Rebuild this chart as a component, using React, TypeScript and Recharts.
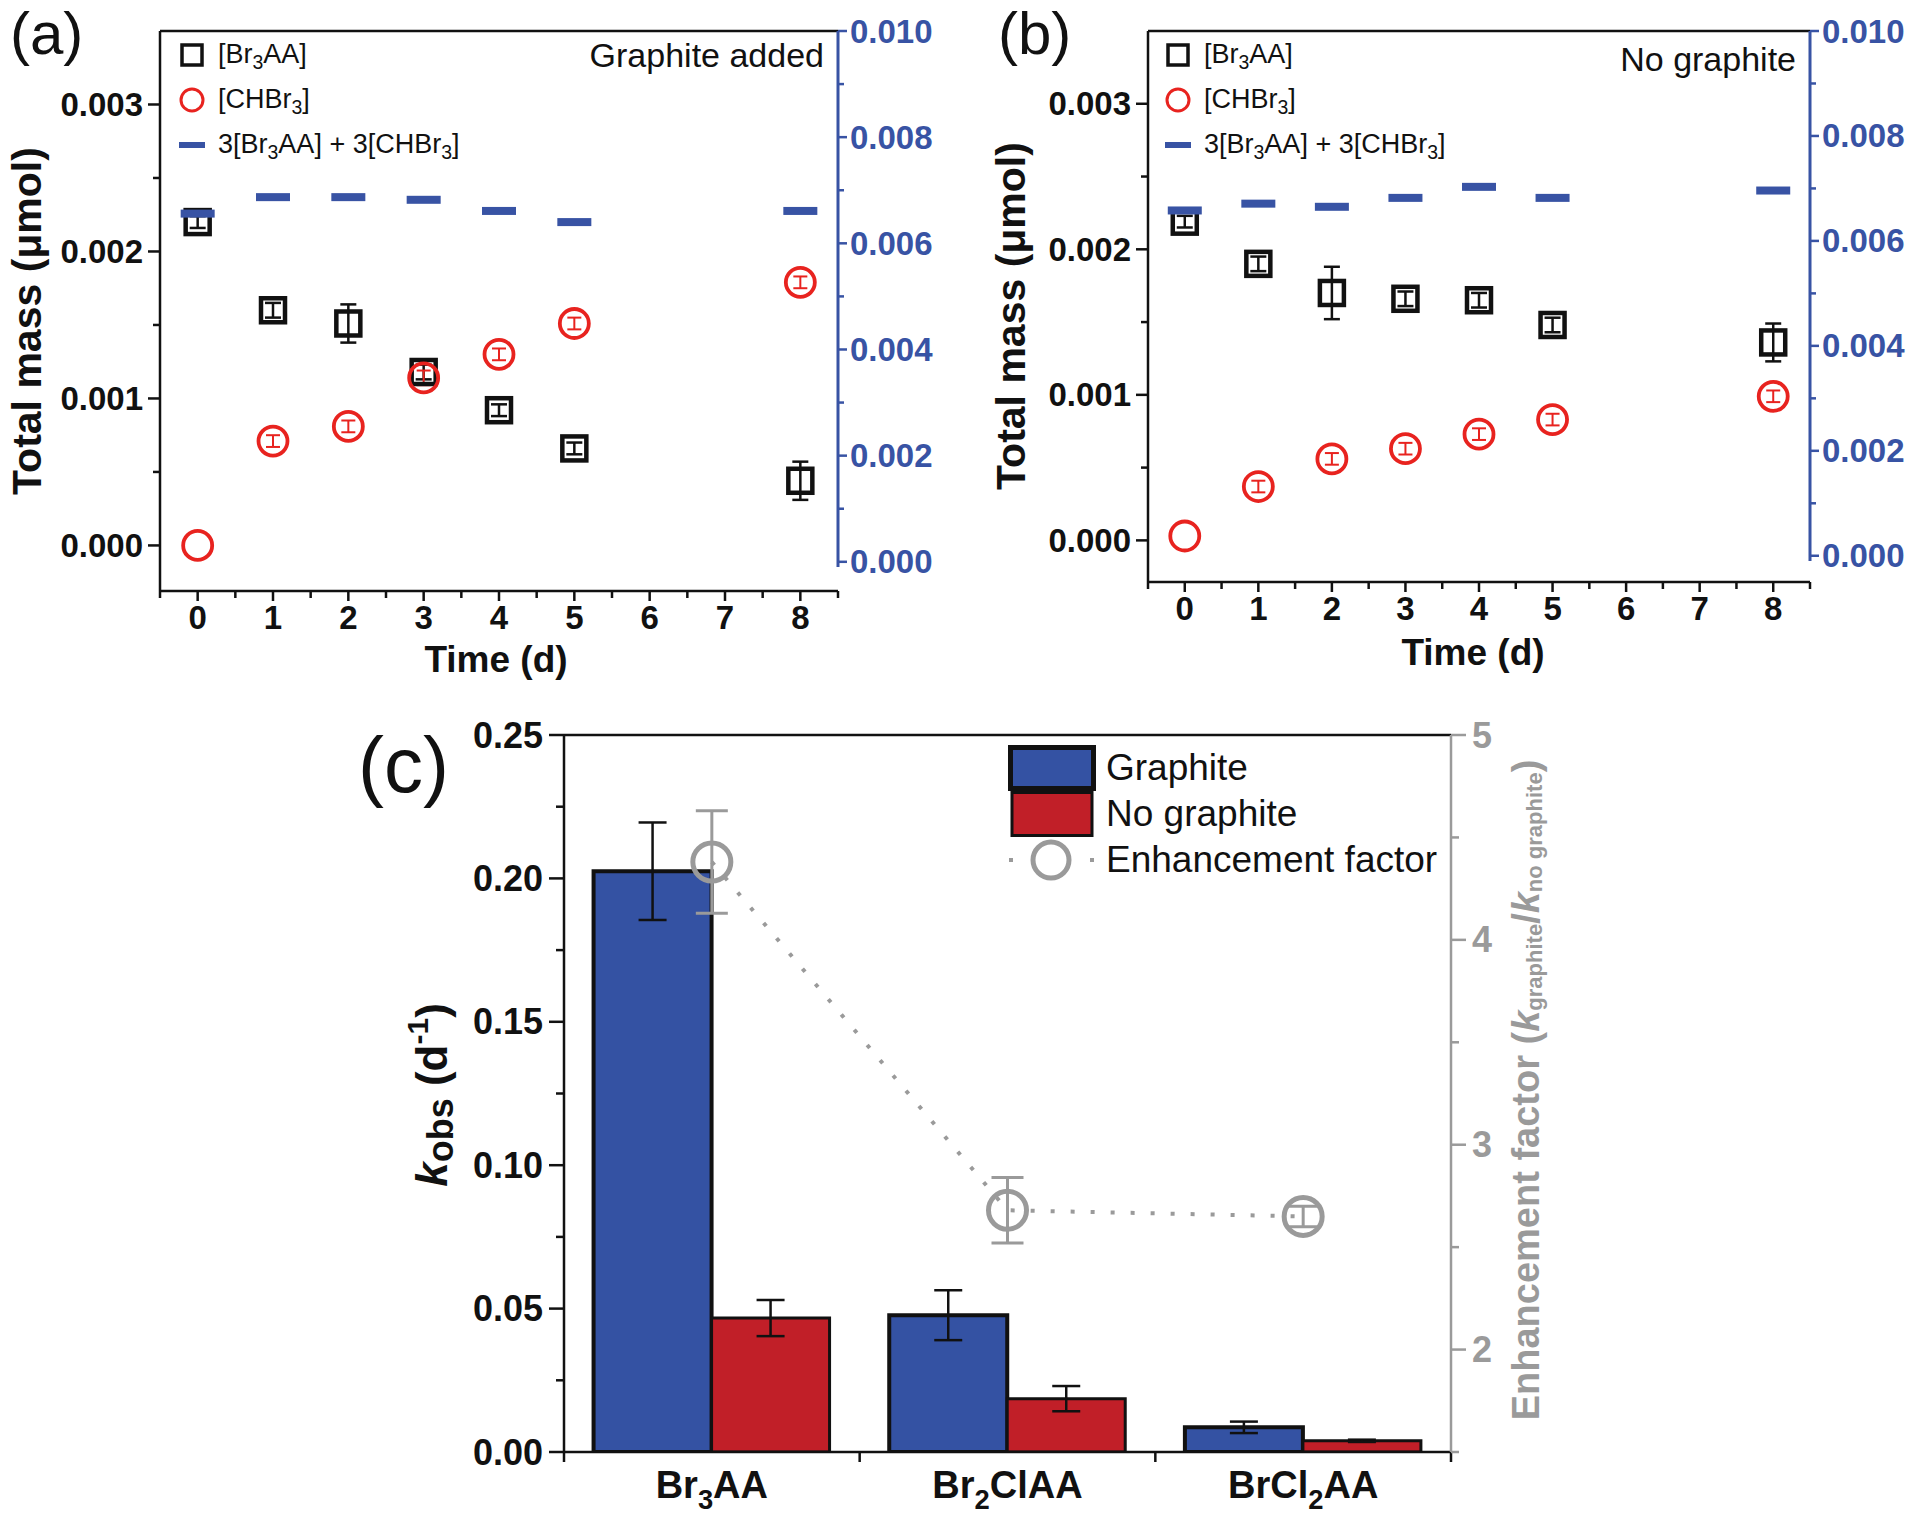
import React from "react";
import {
  ComposedChart,
  Scatter,
  Bar,
  Line,
  XAxis,
  YAxis,
  ErrorBar,
  ReferenceLine,
  Legend,
  Label,
} from "recharts";

const FONT = '"Liberation Sans", Arial, Helvetica, sans-serif';
const INK = "#111111";
const BLUE = "#3853a4";
const RED = "#e8231f";
const GREY = "#9a9a9a";
const BAR_BLUE = "#3452a3";
const BAR_RED = "#c11f28";

// panels (a) and (b): sampling days
const days = [0, 1, 2, 3, 4, 5, 8];
const dayTicks = [-0.5, 0, 0.5, 1, 1.5, 2, 2.5, 3, 3.5, 4, 4.5, 5, 5.5, 6, 6.5, 7, 7.5, 8, 8.5];
const dayMajor = [0, 1, 2, 3, 4, 5, 6, 7, 8];
const massTicks = [0, 0.0005, 0.001, 0.0015, 0.002, 0.0025, 0.003];
const massMajor = [0, 0.001, 0.002, 0.003];
const sumTicks = [0, 0.001, 0.002, 0.003, 0.004, 0.005, 0.006, 0.007, 0.008, 0.009, 0.01];
const sumMajor = [0, 0.002, 0.004, 0.006, 0.008, 0.01];
const massLegend = ["[Br3AA]", "[CHBr3]", "3[Br3AA] + 3[CHBr3]"];

// (a) graphite added
const aBr3aa = [0.0022, 0.0016, 0.00151, 0.00118, 0.00092, 0.00066, 0.00044];
const aBr3aaErr = [0.00004, 0.00005, 0.00013, 0.00005, 0.00004, 0.00004, 0.00013];
const aChbr3 = [0.0, 0.00071, 0.00081, 0.00114, 0.0013, 0.00151, 0.00179];
const aChbr3Err = [0, 0.00004, 0.00004, 0.00005, 0.00004, 0.00004, 0.00004];
const aTotal = [0.00656, 0.00687, 0.00687, 0.00682, 0.00661, 0.0064, 0.00661];

// (b) no graphite
const bBr3aa = [0.00219, 0.0019, 0.0017, 0.00166, 0.00165, 0.00148, 0.00136];
const bBr3aaErr = [0.00004, 0.00005, 0.00018, 0.00005, 0.00005, 0.00005, 0.00013];
const bChbr3 = [0.00003, 0.00037, 0.00056, 0.00063, 0.00073, 0.00083, 0.00099];
const bChbr3Err = [0, 0.00004, 0.00004, 0.00004, 0.00004, 0.00004, 0.00004];
const bTotal = [0.00658, 0.00671, 0.00665, 0.00682, 0.00703, 0.00682, 0.00696];

// (c) rate constants
const compounds = ["Br3AA", "Br2ClAA", "BrCl2AA"];
const kGraphite = [0.2025, 0.0477, 0.0086];
const kGraphiteErr = [0.017, 0.0087, 0.002];
const kNoGraphite = [0.0467, 0.0186, 0.0039];
const kNoGraphiteErr = [0.0063, 0.0044, 0.0004];
const enhancement = [4.38, 2.68, 2.65];
const enhancementErr = [0.25, 0.16, 0.05];
const kTicks = [0, 0.025, 0.05, 0.075, 0.1, 0.125, 0.15, 0.175, 0.2, 0.225, 0.25];
const kMajor = [0, 0.05, 0.1, 0.15, 0.2, 0.25];
const efTicks = [1.5, 2, 2.5, 3, 3.5, 4, 4.5, 5];
const efMajor = [2, 3, 4, 5];
const kLegend = ["Graphite", "No graphite", "Enhancement factor"];

type Part = { t: string; sub?: boolean };

// digits that follow a letter are subscripts (Br3AA, CHBr3)
function splitChem(s: string): Part[] {
  const out: Part[] = [];
  const re = /(\d+)/g;
  let last = 0;
  let m: RegExpExecArray | null;
  while ((m = re.exec(s))) {
    if (m.index > last) out.push({ t: s.slice(last, m.index) });
    const prev = s[m.index - 1];
    out.push({ t: m[0], sub: !!prev && /[A-Za-z]/.test(prev) });
    last = m.index + m[0].length;
  }
  if (last < s.length) out.push({ t: s.slice(last) });
  return out;
}

function HtmlChem({ text }: { text: string }) {
  return (
    <>
      {splitChem(text).map((p, i) =>
        p.sub ? (
          <span key={i} style={{ fontSize: "0.72em", position: "relative", top: "0.32em" }}>
            {p.t}
          </span>
        ) : (
          <span key={i}>{p.t}</span>
        )
      )}
    </>
  );
}

function svgChem(text: string, fs: number) {
  let shift = 0;
  return splitChem(text).map((p, i) => {
    const target = p.sub ? fs * 0.3 : 0;
    const dy = target - shift;
    shift = target;
    return (
      <tspan key={i} dy={dy} fontSize={p.sub ? fs * 0.72 : fs}>
        {p.t}
      </tspan>
    );
  });
}

type Side = "left" | "right" | "bottom";
type TickOpts = {
  color: string;
  fontSize: number;
  fmt: (v: number) => string;
  majorLen?: number;
  minorLen?: number;
  gap?: number;
  lw?: number;
};

function axisTick(side: Side, major: number[], o: TickOpts) {
  const { color, fontSize, fmt, majorLen = 12, minorLen = 7, gap = 5, lw = 2.5 } = o;
  return (props: any) => {
    const { x, y, payload } = props;
    const v = Number(payload.value);
    const isMajor = major.some((m) => Math.abs(m - v) < 1e-9);
    const len = isMajor ? majorLen : minorLen;
    const txt = { fill: color, fontSize, fontWeight: 700, fontFamily: FONT };
    if (side === "left") {
      return (
        <g>
          <line x1={x} y1={y} x2={x - len} y2={y} stroke={color} strokeWidth={lw} />
          {isMajor && (
            <text x={x - majorLen - gap} y={y} textAnchor="end" dominantBaseline="central" {...txt}>
              {fmt(v)}
            </text>
          )}
        </g>
      );
    }
    if (side === "right") {
      return (
        <g>
          <line x1={x} y1={y} x2={x + len} y2={y} stroke={color} strokeWidth={lw} />
          {isMajor && (
            <text x={x + majorLen + gap} y={y} textAnchor="start" dominantBaseline="central" {...txt}>
              {fmt(v)}
            </text>
          )}
        </g>
      );
    }
    return (
      <g>
        <line x1={x} y1={y} x2={x} y2={y + len} stroke={color} strokeWidth={lw} />
        {isMajor && (
          <text x={x} y={y + majorLen + gap + fontSize * 0.72} textAnchor="middle" {...txt}>
            {fmt(v)}
          </text>
        )}
      </g>
    );
  };
}

const SquareDot = (p: any) => (
  <rect x={p.cx - 12} y={p.cy - 12} width={24} height={24} fill="none" stroke={INK} strokeWidth={4.5} />
);
const CircleDot = (p: any) => (
  <circle cx={p.cx} cy={p.cy} r={14.5} fill="none" stroke={RED} strokeWidth={3.8} />
);
const DashDot = (p: any) => <rect x={p.cx - 17} y={p.cy - 4} width={34} height={8} fill={BLUE} />;

type MassRow = {
  day: number;
  br3aa: number;
  br3aaErr: number;
  chbr3: number;
  chbr3Err: number;
  total: number;
};

function massRows(br: number[], brErr: number[], ch: number[], chErr: number[], tot: number[]): MassRow[] {
  return days.map((d, i) => ({
    day: d,
    br3aa: br[i],
    br3aaErr: brErr[i],
    chbr3: ch[i],
    chbr3Err: chErr[i],
    total: tot[i],
  }));
}

function MassLegend() {
  const markers = [
    <rect key="s" x={5} y={5} width={20} height={20} fill="none" stroke={INK} strokeWidth={3.5} />,
    <circle key="c" cx={15} cy={15} r={11} fill="none" stroke={RED} strokeWidth={3} />,
    <rect key="d" x={2} y={12} width={26} height={6} fill={BLUE} />,
  ];
  return (
    <div style={{ fontFamily: FONT, fontSize: 27, color: INK }}>
      {massLegend.map((label, i) => (
        <div key={label} style={{ display: "flex", alignItems: "center", height: 45, whiteSpace: "nowrap" }}>
          <svg width={30} height={30}>
            {markers[i]}
          </svg>
          <span style={{ marginLeft: 11 }}>
            <HtmlChem text={label} />
          </span>
        </div>
      ))}
    </div>
  );
}

type MassPanelProps = {
  rows: MassRow[];
  top: number;
  leftW: number;
  rightW: number;
  bottomH: number;
  massDomain: [number, number];
  sumDomain: [number, number];
  legendPos: { left: number; top: number };
  yTitle: [number, number];
  xTitle: [number, number];
};

function MassPanel(p: MassPanelProps) {
  const titleStyle = { fill: INK, fontWeight: 700, fontFamily: FONT } as const;
  return (
    <ComposedChart width={960} height={680} data={p.rows} margin={{ top: p.top, right: 0, bottom: 0, left: 0 }}>
      <XAxis
        dataKey="day"
        type="number"
        domain={[-0.5, 8.5]}
        ticks={dayTicks}
        interval={0}
        allowDataOverflow
        height={p.bottomH}
        tickSize={0}
        tickMargin={0}
        tickLine={false}
        axisLine={{ stroke: INK, strokeWidth: 2.5 }}
        tick={axisTick("bottom", dayMajor, { color: INK, fontSize: 33, fmt: (v) => String(v), majorLen: 10, minorLen: 7, gap: 4 })}
      >
        <Label
          content={() => (
            <text x={p.xTitle[0]} y={p.xTitle[1]} textAnchor="middle" dominantBaseline="central" fontSize={37} {...titleStyle}>
              Time (d)
            </text>
          )}
        />
      </XAxis>
      <YAxis
        yAxisId="mass"
        width={p.leftW}
        domain={p.massDomain}
        ticks={massTicks}
        interval={0}
        allowDataOverflow
        tickSize={0}
        tickMargin={0}
        tickLine={false}
        axisLine={{ stroke: INK, strokeWidth: 2.5 }}
        tick={axisTick("left", massMajor, { color: INK, fontSize: 33, fmt: (v) => v.toFixed(3) })}
      >
        <Label
          content={() => (
            <text
              x={p.yTitle[0]}
              y={p.yTitle[1]}
              textAnchor="middle"
              dominantBaseline="central"
              transform={`rotate(-90, ${p.yTitle[0]}, ${p.yTitle[1]})`}
              fontSize={41}
              {...titleStyle}
            >
              Total mass (μmol)
            </text>
          )}
        />
      </YAxis>
      <YAxis
        yAxisId="sum"
        orientation="right"
        width={p.rightW}
        domain={p.sumDomain}
        ticks={sumTicks}
        interval={0}
        allowDataOverflow
        tickSize={0}
        tickMargin={0}
        tickLine={false}
        axisLine={false}
        tick={axisTick("right", sumMajor, { color: BLUE, fontSize: 33, fmt: (v) => v.toFixed(3), majorLen: 9, minorLen: 6, gap: 3 })}
      />
      <ReferenceLine yAxisId="mass" y={p.massDomain[1]} stroke={INK} strokeWidth={2.5} />
      <ReferenceLine
        yAxisId="sum"
        ifOverflow="visible"
        segment={[
          { x: 8.5, y: -0.0001 },
          { x: 8.5, y: p.sumDomain[1] },
        ]}
        stroke={BLUE}
        strokeWidth={3}
      />
      <Scatter yAxisId="mass" dataKey="br3aa" shape={SquareDot} isAnimationActive={false}>
        <ErrorBar dataKey="br3aaErr" direction="y" width={8} stroke={INK} strokeWidth={2.5} />
      </Scatter>
      <Scatter yAxisId="mass" dataKey="chbr3" shape={CircleDot} isAnimationActive={false}>
        <ErrorBar dataKey="chbr3Err" direction="y" width={7} stroke={RED} strokeWidth={2} />
      </Scatter>
      <Scatter yAxisId="sum" dataKey="total" shape={DashDot} isAnimationActive={false} />
      <Legend
        layout="vertical"
        align="center"
        verticalAlign="middle"
        wrapperStyle={{ left: p.legendPos.left, top: p.legendPos.top }}
        content={() => <MassLegend />}
      />
    </ComposedChart>
  );
}

// ---- panel (c)
const C_W = 1240;
const C_LEFT = 224;
const C_RIGHT = 129;
const BAND = (C_W - C_LEFT - C_RIGHT) / compounds.length;

const kRows = compounds.map((name, i) => ({
  name,
  g: kGraphite[i],
  gErr: kGraphiteErr[i],
  n: kNoGraphite[i],
  nErr: kNoGraphiteErr[i],
  ef: enhancement[i],
  efErr: enhancementErr[i],
}));

const CompoundTick = (props: any) => {
  const { x, y, payload, index } = props;
  const fs = 38;
  const edge = x - BAND / 2;
  return (
    <g>
      <line x1={edge} y1={y} x2={edge} y2={y + 10} stroke={INK} strokeWidth={2.5} />
      {index === compounds.length - 1 && (
        <line x1={x + BAND / 2} y1={y} x2={x + BAND / 2} y2={y + 10} stroke={INK} strokeWidth={2.5} />
      )}
      <text x={x} y={y + 46} textAnchor="middle" fill={INK} fontWeight={700} fontFamily={FONT} fontSize={fs}>
        {svgChem(String(payload.value), fs)}
      </text>
    </g>
  );
};

const EfDot = (p: any) => (
  <circle key={`ef-${p.index}`} cx={p.cx} cy={p.cy} r={19} fill="none" stroke={GREY} strokeWidth={5} />
);

function KLegend() {
  return (
    <div style={{ fontFamily: FONT, fontSize: 37, color: INK }}>
      {kLegend.map((label, i) => (
        <div key={label} style={{ display: "flex", alignItems: "center", height: 46, whiteSpace: "nowrap" }}>
          <svg width={88} height={46}>
            {i === 0 && <rect x={2.5} y={2.5} width={83} height={41} fill={BAR_BLUE} stroke={INK} strokeWidth={5} />}
            {i === 1 && <rect x={4} y={1.5} width={80} height={43} fill={BAR_RED} stroke={INK} strokeWidth={3} />}
            {i === 2 && (
              <g>
                <rect x={1} y={21} width={4} height={4} fill={GREY} />
                <rect x={82} y={21} width={4} height={4} fill={GREY} />
                <circle cx={43} cy={23} r={18} fill="none" stroke={GREY} strokeWidth={5} />
              </g>
            )}
          </svg>
          <span style={{ marginLeft: 10 }}>{label}</span>
        </div>
      ))}
    </div>
  );
}

function RatePanel() {
  const kx = 91;
  const ky = 405;
  const ex = 1186;
  const ey = 400;
  return (
    <ComposedChart
      width={C_W}
      height={833}
      data={kRows}
      margin={{ top: 45, right: 0, bottom: 0, left: 0 }}
      barCategoryGap="10%"
      barGap={0}
    >
      <XAxis
        dataKey="name"
        height={71}
        interval={0}
        tickSize={0}
        tickMargin={0}
        tickLine={false}
        axisLine={{ stroke: INK, strokeWidth: 2.5 }}
        tick={CompoundTick}
      />
      <YAxis
        yAxisId="k"
        width={C_LEFT}
        domain={[0, 0.25]}
        ticks={kTicks}
        interval={0}
        allowDataOverflow
        tickSize={0}
        tickMargin={0}
        tickLine={false}
        axisLine={{ stroke: INK, strokeWidth: 2.5 }}
        tick={axisTick("left", kMajor, { color: INK, fontSize: 36, fmt: (v) => v.toFixed(2), majorLen: 15, minorLen: 8, gap: 6 })}
      >
        <Label
          content={() => (
            <text
              x={kx}
              y={ky}
              textAnchor="middle"
              dominantBaseline="central"
              transform={`rotate(-90, ${kx}, ${ky})`}
              fill={INK}
              fontWeight={700}
              fontFamily={FONT}
              fontSize={44}
            >
              <tspan fontStyle="italic">k</tspan>
              <tspan dy={9} fontSize={36}>obs</tspan>
              <tspan dy={-9}> (d</tspan>
              <tspan dy={-14} fontSize={30}>-1</tspan>
              <tspan dy={14}>)</tspan>
            </text>
          )}
        />
      </YAxis>
      <YAxis
        yAxisId="ef"
        orientation="right"
        width={C_RIGHT}
        domain={[1.5, 5]}
        ticks={efTicks}
        interval={0}
        allowDataOverflow
        tickSize={0}
        tickMargin={0}
        tickLine={false}
        axisLine={{ stroke: GREY, strokeWidth: 2.5 }}
        tick={axisTick("right", efMajor, { color: GREY, fontSize: 36, fmt: (v) => String(v), majorLen: 15, minorLen: 8, gap: 6 })}
      >
        <Label
          content={() => (
            <text
              x={ex}
              y={ey}
              textAnchor="middle"
              dominantBaseline="central"
              transform={`rotate(-90, ${ex}, ${ey})`}
              fill={GREY}
              fontWeight={700}
              fontFamily={FONT}
              fontSize={38}
            >
              <tspan>Enhancement factor (</tspan>
              <tspan fontStyle="italic">k</tspan>
              <tspan dy={8} fontSize={22}>graphite</tspan>
              <tspan dy={-8}>/</tspan>
              <tspan fontStyle="italic">k</tspan>
              <tspan dy={8} fontSize={22}>no graphite</tspan>
              <tspan dy={-8}>)</tspan>
            </text>
          )}
        />
      </YAxis>
      <ReferenceLine yAxisId="k" y={0.25} stroke={INK} strokeWidth={2.5} />
      <Bar yAxisId="k" dataKey="g" fill={BAR_BLUE} stroke={INK} strokeWidth={4} isAnimationActive={false}>
        <ErrorBar dataKey="gErr" direction="y" width={14} stroke={INK} strokeWidth={2.5} />
      </Bar>
      <Bar yAxisId="k" dataKey="n" fill={BAR_RED} stroke={INK} strokeWidth={3} isAnimationActive={false}>
        <ErrorBar dataKey="nErr" direction="y" width={14} stroke={INK} strokeWidth={2.5} />
      </Bar>
      <Line
        yAxisId="ef"
        dataKey="ef"
        stroke={GREY}
        strokeWidth={4}
        strokeDasharray="4 16"
        dot={EfDot}
        activeDot={false}
        isAnimationActive={false}
      >
        <ErrorBar dataKey="efErr" direction="y" width={16} stroke={GREY} strokeWidth={3} />
      </Line>
      <Legend
        layout="vertical"
        align="center"
        verticalAlign="middle"
        wrapperStyle={{ left: 668, top: 55 }}
        content={() => <KLegend />}
      />
    </ComposedChart>
  );
}

function Tag({ text, left, top, size }: { text: string; left: number; top: number; size: number }) {
  return (
    <div style={{ position: "absolute", left, top, fontSize: size, lineHeight: `${size}px`, fontFamily: FONT, color: INK }}>
      {text}
    </div>
  );
}

export default function App() {
  const aRows = massRows(aBr3aa, aBr3aaErr, aChbr3, aChbr3Err, aTotal);
  const bRows = massRows(bBr3aa, bBr3aaErr, bChbr3, bChbr3Err, bTotal);
  return (
    <div
      style={{
        position: "absolute",
        left: 0,
        top: 0,
        width: 1920,
        height: 1523,
        background: "#fff",
        fontFamily: FONT,
        overflow: "hidden",
      }}
    >
      <div style={{ position: "absolute", left: 0, top: 0 }}>
        <MassPanel
          rows={aRows}
          top={31}
          leftW={160}
          rightW={122}
          bottomH={89}
          massDomain={[-0.00031, 0.0035]}
          sumDomain={[-0.00055, 0.01]}
          legendPos={{ left: 177, top: 32 }}
          yTitle={[27, 321]}
          xTitle={[496, 659]}
        />
      </div>
      <div style={{ position: "absolute", left: 960, top: 0 }}>
        <MassPanel
          rows={bRows}
          top={31}
          leftW={188}
          rightW={110}
          bottomH={98}
          massDomain={[-0.000286, 0.0035]}
          sumDomain={[-0.0005, 0.01]}
          legendPos={{ left: 203, top: 32 }}
          yTitle={[51, 316]}
          xTitle={[513, 652]}
        />
      </div>
      <div style={{ position: "absolute", left: 340, top: 690 }}>
        <RatePanel />
      </div>
      <Tag text="(a)" left={10} top={4} size={60} />
      <Tag text="(b)" left={998} top={4} size={60} />
      <Tag text="(c)" left={358} top={726} size={78} />
      <div style={{ position: "absolute", left: 524, width: 300, top: 38, textAlign: "right", fontSize: 34, lineHeight: "34px", color: INK }}>
        Graphite added
      </div>
      <div style={{ position: "absolute", left: 1496, width: 300, top: 42, textAlign: "right", fontSize: 34, lineHeight: "34px", color: INK }}>
        No graphite
      </div>
    </div>
  );
}
